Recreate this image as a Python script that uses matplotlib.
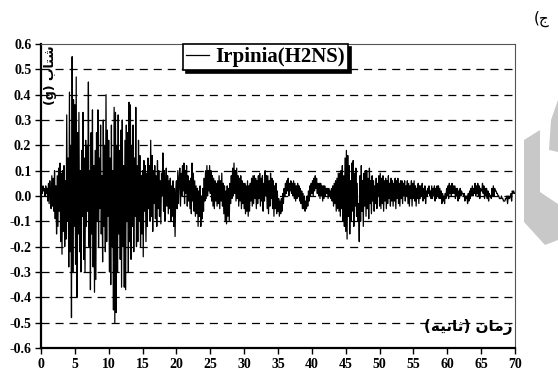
import numpy as np
import matplotlib
matplotlib.use("Agg")
import matplotlib.pyplot as plt
from matplotlib.patches import Polygon

# Irpinia (H2NS) accelerogram, one row = 1 s (dt = 0.1 s)
dt = 0.1
accel = [
    0.02, 0.03, 0.01, 0.04, 0.02, 0.03, 0.00, 0.04, 0.01, 0.03,
    -0.02, 0.05, -0.03, 0.06, 0.00, -0.05, 0.08, -0.04, 0.07, -0.06,
    0.10, -0.09, 0.04, -0.15, 0.08, -0.12, 0.11, -0.06, 0.13, -0.18,
    0.09, -0.23, 0.10, -0.14, 0.12, -0.20, 0.06, -0.17, 0.32, -0.10,
    0.15, -0.28, 0.41, -0.22, 0.20, -0.48, 0.55, -0.30, 0.38, -0.12,
    0.36, -0.27, 0.47, -0.40, 0.25, -0.15, 0.33, -0.22, 0.10, -0.30,
    0.18, -0.08, 0.33, -0.25, 0.15, -0.30, 0.22, -0.12, 0.20, -0.06,
    0.45, -0.20, 0.10, -0.37, 0.25, -0.15, 0.34, -0.28, 0.12, -0.38,
    0.18, -0.33, 0.25, -0.10, 0.34, -0.20, 0.15, -0.05, 0.28, -0.15,
    0.08, -0.26, 0.30, -0.12, 0.20, -0.22, 0.40, -0.18, 0.26, -0.08,
    0.22, -0.30, 0.15, -0.35, 0.28, -0.20, 0.10, -0.45, 0.35, -0.50,
    0.33, -0.46, 0.20, -0.30, 0.32, -0.15, 0.18, -0.25, 0.26, -0.36,
    0.30, -0.20, 0.12, -0.36, 0.22, -0.37, 0.28, -0.10, 0.25, -0.30,
    0.37, -0.18, 0.36, -0.25, 0.20, -0.12, 0.28, -0.22, 0.15, -0.08,
    0.35, -0.20, 0.12, -0.18, 0.22, -0.10, 0.16, -0.20, 0.08, -0.15,
    0.10, -0.24, 0.14, -0.06, 0.12, -0.18, 0.09, -0.12, 0.15, -0.05,
    0.12, -0.10, 0.22, -0.08, 0.16, -0.14, 0.10, -0.03, 0.12, -0.09,
    0.08, -0.12, 0.14, -0.05, 0.10, -0.08, 0.06, -0.11, 0.09, 0.00,
    0.17, -0.06, 0.10, -0.10, 0.05, 0.11, -0.04, 0.08, -0.07, 0.06,
    -0.05, 0.07, -0.10, 0.04, -0.08, 0.06, -0.12, 0.03, -0.16, 0.02,
    0.06, -0.05, 0.10, -0.03, 0.07, 0.11, -0.04, 0.09, 0.00, 0.12,
    0.02, 0.13, -0.03, 0.10, 0.01, 0.12, -0.04, 0.08, -0.02, 0.06,
    -0.05, 0.07, -0.07, 0.13, -0.02, 0.09, -0.06, 0.06, -0.08, 0.04,
    -0.07, 0.03, -0.12, 0.02, -0.08, 0.04, -0.12, 0.00, -0.09, 0.03,
    -0.06, 0.07, -0.02, 0.10, -0.01, 0.12, 0.00, 0.10, 0.02, 0.12,
    0.01, 0.10, -0.02, 0.08, -0.04, 0.07, -0.05, 0.06, -0.02, 0.05,
    -0.04, 0.06, -0.03, 0.08, -0.05, 0.06, -0.02, 0.09, -0.04, 0.05,
    -0.07, 0.04, -0.10, 0.02, -0.11, 0.04, -0.08, 0.03, -0.10, 0.05,
    -0.03, 0.08, -0.01, 0.11, 0.00, 0.13, 0.01, 0.10, -0.02, 0.11,
    -0.01, 0.08, -0.04, 0.07, -0.02, 0.08, -0.05, 0.06, -0.03, 0.05,
    -0.05, 0.05, -0.07, 0.04, -0.06, 0.06, -0.08, 0.04, -0.06, 0.05,
    -0.02, 0.07, -0.04, 0.08, -0.03, 0.08, -0.01, 0.07, -0.05, 0.06,
    -0.03, 0.08, -0.01, 0.09, -0.04, 0.07, -0.02, 0.08, -0.06, 0.05,
    -0.02, 0.10, 0.00, 0.08, -0.05, 0.08, -0.07, 0.06, -0.04, 0.09,
    -0.01, 0.07, -0.05, 0.06, -0.08, 0.04, -0.05, 0.05, -0.07, 0.02,
    -0.06, -0.01, -0.08, -0.02, -0.07, -0.01, -0.06, 0.01, -0.03, 0.03,
    0.00, 0.05, 0.01, 0.06, 0.02, 0.07, 0.00, 0.05, 0.02, 0.06,
    0.01, 0.05, 0.00, 0.06, -0.01, 0.05, -0.02, 0.04, -0.01, 0.05,
    0.00, 0.04, -0.02, 0.03, -0.03, 0.02, -0.05, 0.01, -0.05, 0.00,
    -0.06, -0.02, -0.05, 0.00, -0.04, 0.02, -0.02, 0.04, 0.00, 0.05,
    0.01, 0.06, 0.00, 0.07, 0.02, 0.08, 0.03, 0.07, 0.01, 0.05,
    0.00, 0.05, -0.01, 0.05, 0.00, 0.04, -0.02, 0.04, -0.01, 0.04,
    0.00, 0.03, 0.01, 0.03, -0.01, 0.03, 0.00, 0.02, -0.01, 0.03,
    -0.02, 0.04, -0.04, 0.05, -0.03, 0.06, -0.06, 0.07, -0.05, 0.09,
    -0.06, 0.09, -0.08, 0.10, -0.05, 0.12, -0.10, 0.08, -0.12, 0.15,
    -0.14, 0.18, -0.17, 0.16, -0.08, 0.12, -0.15, 0.06, -0.10, 0.13,
    -0.06, 0.14, -0.12, 0.09, -0.04, 0.11, -0.08, 0.05, -0.10, -0.03,
    -0.18, 0.08, -0.10, 0.12, -0.06, 0.06, -0.12, 0.09, -0.04, 0.10,
    -0.08, 0.10, -0.05, 0.07, -0.09, 0.11, -0.03, 0.06, -0.07, 0.08,
    -0.02, 0.06, -0.06, 0.04, -0.03, 0.07, -0.05, 0.05, 0.00, 0.08,
    -0.04, 0.09, -0.05, 0.07, -0.03, 0.08, -0.06, 0.06, -0.02, 0.07,
    -0.05, 0.06, -0.03, 0.08, -0.01, 0.05, -0.04, 0.07, -0.02, 0.06,
    -0.04, 0.05, -0.02, 0.07, -0.05, 0.06, -0.01, 0.07, -0.03, 0.05,
    -0.04, 0.06, -0.01, 0.06, -0.03, 0.05, 0.00, 0.06, -0.02, 0.04,
    0.00, 0.06, -0.03, 0.05, -0.04, 0.04, -0.01, 0.06, -0.04, 0.05,
    -0.01, 0.06, -0.02, 0.04, -0.04, 0.03, -0.01, 0.05, -0.03, 0.04,
    -0.01, 0.04, 0.00, 0.05, -0.02, 0.03, -0.01, 0.04, -0.03, 0.02,
    0.00, 0.03, 0.01, 0.04, 0.00, 0.02, -0.01, 0.04, -0.01, 0.03,
    0.00, 0.04, -0.02, 0.03, -0.01, 0.04, 0.00, 0.04, -0.01, 0.03,
    -0.01, 0.02, -0.03, 0.01, -0.02, 0.00, -0.03, 0.01, -0.01, 0.03,
    0.00, 0.04, -0.01, 0.05, 0.01, 0.04, 0.00, 0.05, 0.01, 0.04,
    0.01, 0.04, -0.01, 0.03, 0.00, 0.03, -0.02, 0.02, -0.01, 0.03,
    0.00, 0.02, 0.01, 0.01, 0.00, 0.01, -0.02, 0.00, -0.01, 0.00,
    -0.03, 0.01, -0.02, 0.02, -0.01, 0.03, 0.00, 0.04, 0.00, 0.03,
    0.01, 0.05, 0.00, 0.04, 0.01, 0.05, 0.00, 0.04, -0.01, 0.03,
    0.02, 0.02, 0.05, 0.01, 0.04, -0.01, 0.03, 0.00, 0.03, -0.01,
    0.02, -0.02, 0.01, 0.00, 0.00, -0.01, 0.03, 0.00, 0.04, 0.00,
    0.03, 0.02, 0.02, 0.01, 0.01, 0.00, 0.00, -0.01, -0.01, -0.01,
    0.00, -0.01, -0.01, -0.02, -0.02, -0.02, -0.01, -0.01, 0.00, -0.03,
    0.00, -0.01, -0.01, 0.00, 0.01, -0.02, 0.02, 0.01, 0.02, 0.01,
    0.01,
]
time = np.arange(len(accel)) * dt

series_label = "Irpinia(H2NS)"
x_ticks = list(range(0, 75, 5))
y_ticks = [round(v, 1) + 0.0 for v in np.arange(-0.6, 0.61, 0.1)]
grid_levels = [round(v, 1) + 0.0 for v in np.arange(-0.5, 0.51, 0.1)]

# Persian labels, written as shaped glyphs in visual order (matplotlib has no bidi)
ylabel_fa = "(g) \ufe8f\ufe8e\ufe98\ufeb7"                                  # شتاب (g)
xlabel_fa = "(\ufeea\ufef4\ufee7\ufe8e\ufe9b) \ufee5\ufe8e\ufee3\ufeaf"    # زمان (ثانیه)
panel_fa = "(\ufe9d"                                                        # ج)

plt.rcParams["lines.scale_dashes"] = False
serif = ["Liberation Serif", "DejaVu Serif"]

fig = plt.figure(figsize=(5.58, 3.83), dpi=100)
ax = fig.add_axes([41 / 558, 35 / 383, 474 / 558, 304 / 383])

for lvl in grid_levels:
    ax.axhline(lvl, color="black", lw=0.9, ls=(0, (5.8, 4.3)), zorder=1)

ax.plot(time, accel, color="black", lw=0.9, zorder=2, label=series_label)

ax.set_xlim(0, 70)
ax.set_ylim(-0.6, 0.6)
ax.set_xticks(x_ticks)
ax.set_yticks(y_ticks)
ax.set_xticklabels([str(t) for t in x_ticks])
ax.set_yticklabels([f"{v:.1f}" for v in y_ticks])
for lab in ax.get_xticklabels() + ax.get_yticklabels():
    lab.set_fontfamily(serif)
    lab.set_fontweight("bold")
    lab.set_fontsize(10)
ax.tick_params(axis="both", direction="out", length=4, width=1.0, pad=3)

ax.spines["left"].set_linewidth(1.6)
ax.spines["bottom"].set_linewidth(1.6)
for s in ("top", "right"):
    ax.spines[s].set_linewidth(0.8)
    ax.spines[s].set_color("#555555")

leg = ax.legend(loc="upper left", bbox_to_anchor=((183 - 41) / 474, 1.0),
                borderaxespad=0, fancybox=False, framealpha=1,
                edgecolor="black", handlelength=1.1, handletextpad=0.3,
                borderpad=0.15, shadow={"color": "black", "alpha": 1},
                prop={"family": serif, "weight": "bold", "size": 15})
leg.get_frame().set_linewidth(1.2)
leg.set_zorder(5)

ax.text(0.019, 0.995, ylabel_fa, transform=ax.transAxes, rotation=90,
        ha="center", va="top", fontsize=9, fontweight="bold",
        family="DejaVu Sans", zorder=4)
ax.text(0.994, 0.069, xlabel_fa, transform=ax.transAxes, ha="right",
        va="center", fontsize=11, fontweight="bold", family="DejaVu Sans",
        zorder=4)
fig.text(542 / 558, 1 - 19 / 383, panel_fa, ha="center", va="center",
         fontsize=11, family="DejaVu Sans")

# grey watermark fragment at the right edge
W, H = 558.0, 383.0
pieces = [
    [(524, 140), (540, 130), (540, 192), (558, 204), (558, 240), (545, 245), (524, 222)],
    [(549, 150), (551, 120), (558, 100), (558, 152)],
]
for pts in pieces:
    fig.patches.append(Polygon([(x / W, 1 - y / H) for x, y in pts], closed=True,
                               transform=fig.transFigure, facecolor="#c8c8c8",
                               edgecolor="none", zorder=0))

fig.savefig("out.png", dpi=100)
